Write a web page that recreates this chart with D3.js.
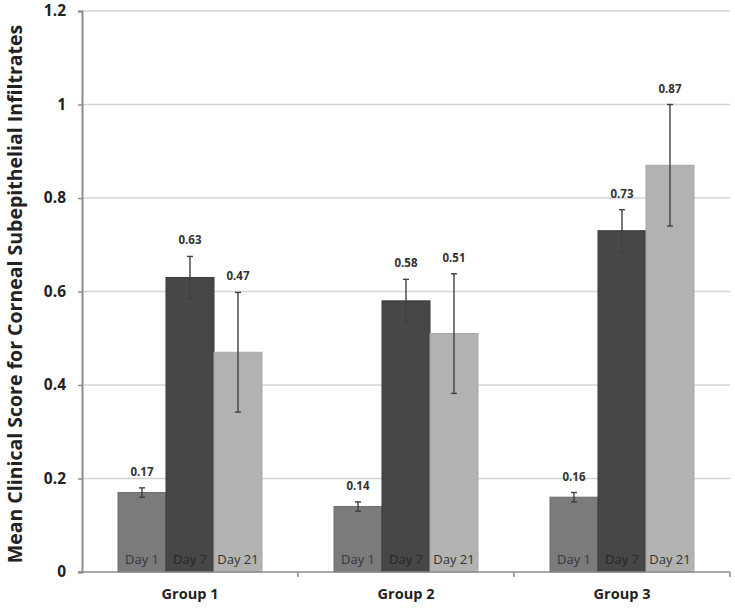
<!DOCTYPE html>
<html>
<head>
<meta charset="utf-8">
<script src="https://cdn.jsdelivr.net/npm/d3@7/dist/d3.min.js"></script>
<style>
  html, body { margin: 0; padding: 0; background: #fff; }
  svg { display: block; }
</style>
</head>
<body>
<svg id="chart" width="735" height="610"></svg>
<script>
const groups = ["Group 1", "Group 2", "Group 3"];
const days = ["Day 1", "Day 7", "Day 21"];
const meanDay1 = [0.17, 0.14, 0.16];
const meanDay7 = [0.63, 0.58, 0.73];
const meanDay21 = [0.47, 0.51, 0.87];
const errDay1 = [0.01, 0.01, 0.01];
const errDay7 = [0.045, 0.046, 0.045];
const errDay21 = [0.128, 0.128, 0.13];
const yTicks = [0, 0.2, 0.4, 0.6, 0.8, 1, 1.2];
const yTitle = "Mean Clinical Score for Corneal Subepithelial Infiltrates";

(function () {
const means = [meanDay1, meanDay7, meanDay21];
const errs = [errDay1, errDay7, errDay21];
const colors = ["#7b7b7b", "#474747", "#b2b2b2"];
const strokes = ["#6c6c6c", "#383838", "#a6a6a6"];

const data = [];
groups.forEach((g, gi) => {
  days.forEach((d, di) => {
    data.push({ group: g, day: d, di, value: means[di][gi], err: errs[di][gi] });
  });
});

const svg = d3.select("#chart");
const mLeft = 82, mRight = 730, mTop = 11, mBottom = 572;
const font = "'Open Sans', Lato, sans-serif";

const y = d3.scaleLinear().domain([0, 1.2]).range([mBottom, mTop]);
const x0 = d3.scaleBand().domain(groups).range([mLeft, mRight]).padding(0);
const x1 = d3.scaleBand().domain(days).range([36, x0.bandwidth() - 36]).padding(0);

// gridlines
svg.append("g").selectAll("line").data(yTicks.filter(t => t > 0)).join("line")
  .attr("x1", mLeft).attr("x2", mRight)
  .attr("y1", d => y(d)).attr("y2", d => y(d))
  .attr("stroke", "#d3d3d3").attr("stroke-width", 1.5);

// bars
const bars = svg.append("g");
bars.selectAll("rect").data(data).join("rect")
  .attr("x", d => x0(d.group) + x1(d.day))
  .attr("width", x1.bandwidth())
  .attr("y", d => y(d.value))
  .attr("height", d => y(0) - y(d.value))
  .attr("fill", d => colors[d.di])
  .attr("stroke", d => strokes[d.di])
  .attr("stroke-width", 1);

// day labels inside bars
bars.selectAll("text.day").data(data).join("text")
  .attr("class", "day")
  .attr("x", d => x0(d.group) + x1(d.day) + x1.bandwidth() / 2)
  .attr("y", 564)
  .attr("text-anchor", "middle")
  .attr("font-family", font)
  .attr("font-size", 13)
  .attr("fill", d => d.di === 1 ? "#262626" : "#353535")
  .text(d => d.day);

// error bars
const eg = svg.append("g").attr("stroke", "#404040").attr("stroke-width", 1.4);
data.forEach(d => {
  const cx = x0(d.group) + x1(d.day) + x1.bandwidth() / 2;
  const yt = y(d.value + d.err), yb = y(d.value - d.err);
  eg.append("line").attr("x1", cx).attr("x2", cx).attr("y1", yt).attr("y2", yb);
  eg.append("line").attr("x1", cx - 3).attr("x2", cx + 3).attr("y1", yt).attr("y2", yt);
  eg.append("line").attr("x1", cx - 3).attr("x2", cx + 3).attr("y1", yb).attr("y2", yb);
});

// value labels
svg.append("g").selectAll("text").data(data).join("text")
  .attr("x", d => x0(d.group) + x1(d.day) + x1.bandwidth() / 2)
  .attr("y", d => y(d.value + d.err) - 12)
  .attr("text-anchor", "middle")
  .attr("font-family", font)
  .attr("font-weight", "bold")
  .attr("font-size", 11.5)
  .attr("fill", "#333")
  .text(d => d3.format(".2f")(d.value));

// y axis
const yAxis = d3.axisLeft(y).tickValues(yTicks).tickSize(4).tickPadding(12)
  .tickFormat(d => d3.format("")(d));
const ya = svg.append("g").attr("transform", `translate(${mLeft},0)`).call(yAxis);
ya.select(".domain").attr("stroke", "#8c8c8c").attr("stroke-width", 2);
ya.selectAll(".tick line").attr("stroke", "#8c8c8c").attr("stroke-width", 1.5);
ya.selectAll(".tick text")
  .attr("font-family", font).attr("font-weight", "bold")
  .attr("font-size", 15.5).attr("fill", "#222");

// x axis
const xAxis = d3.axisBottom(x0).tickSize(0).tickPadding(17);
const xa = svg.append("g").attr("transform", `translate(0,${mBottom})`).call(xAxis);
xa.select(".domain").attr("stroke", "#8c8c8c").attr("stroke-width", 1.5)
  .attr("d", `M${mLeft - 4},0H${mRight}`);
xa.selectAll(".tick text")
  .attr("font-family", font).attr("font-weight", "bold")
  .attr("font-size", 14.5).attr("fill", "#222");
// category boundary ticks
svg.append("g").selectAll("line").data(groups).join("line")
  .attr("x1", d => x0(d) + x0.bandwidth()).attr("x2", d => x0(d) + x0.bandwidth())
  .attr("y1", mBottom).attr("y2", mBottom + 5)
  .attr("stroke", "#8c8c8c").attr("stroke-width", 1.5);

// y title
svg.append("text")
  .attr("transform", "translate(22,294) rotate(-90)")
  .attr("text-anchor", "middle")
  .attr("font-family", font)
  .attr("font-weight", "bold")
  .attr("font-size", 19.5)
  .attr("fill", "#222")
  .text(yTitle);
})();
</script>
</body>
</html>
